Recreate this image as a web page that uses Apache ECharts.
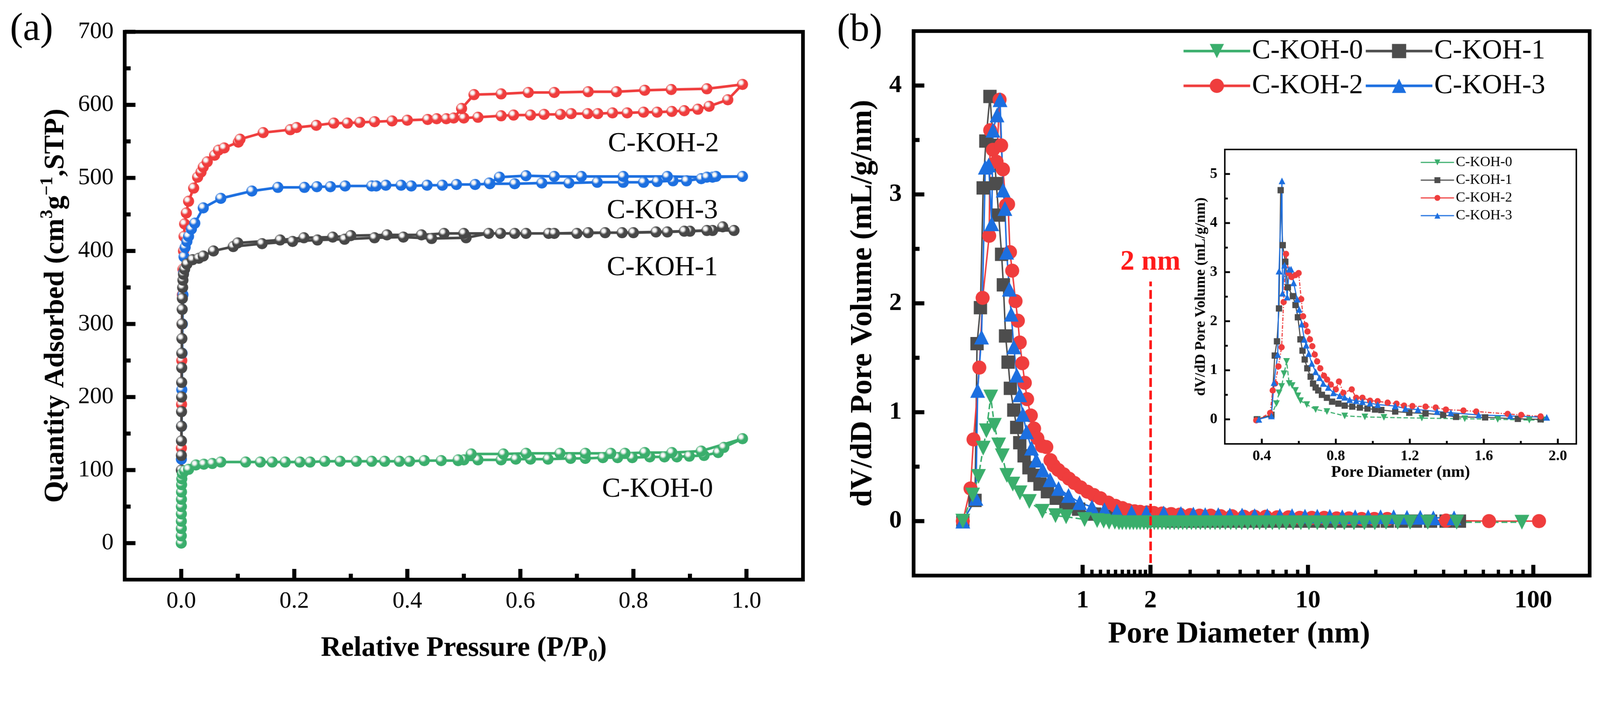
<!DOCTYPE html>
<html>
<head>
<meta charset="utf-8">
<title>C-KOH isotherms and pore size distribution</title>
<script src="https://cdn.jsdelivr.net/npm/echarts@6/dist/echarts.min.js"></script>
<style>
  html, body { margin: 0; padding: 0; background: #fff; overflow: hidden; }
  #chart { width: 4324px; height: 1808px; transform-origin: 0 0; }
</style>
</head>
<body>
<div id="chart"></div>
<script>
// ---------- (a) N2 isotherms: adsorption then desorption branch ----------
const koh2IsoX = [0.0003, 0.0006, 0.001, 0.0015, 0.002, 0.003, 0.004, 0.005, 0.006, 0.009, 0.013, 0.022, 0.029, 0.035, 0.039, 0.046, 0.059, 0.066, 0.076, 0.101, 0.104, 0.145, 0.193, 0.204, 0.239, 0.27, 0.294, 0.316, 0.342, 0.373, 0.4, 0.436, 0.452, 0.469, 0.5, 0.525, 0.566, 0.588, 0.618, 0.642, 0.671, 0.69, 0.719, 0.737, 0.763, 0.789, 0.818, 0.842, 0.868, 0.89, 0.914, 0.934, 0.967, 0.993,
  0.93, 0.867, 0.82, 0.77, 0.72, 0.66, 0.614, 0.566, 0.518, 0.496, 0.482];
const koh2IsoY = [130, 190, 250, 300, 340, 375, 400, 420, 437, 452, 468, 486, 501, 508, 515, 522, 531, 538, 541, 549, 553, 562, 566, 569, 572, 575, 575, 576, 577, 578, 579, 580, 581, 581, 582, 583, 585, 586, 586, 587, 587, 588, 588, 588, 589, 589, 590, 590, 591, 592, 594, 598, 607, 628,
  622, 621, 620, 618, 618, 617, 617, 615, 614, 595, 582];

const koh3IsoX = [0.0003, 0.0006, 0.001, 0.0015, 0.002, 0.003, 0.004, 0.005, 0.007, 0.01, 0.013, 0.018, 0.024, 0.039, 0.07, 0.125, 0.171, 0.218, 0.24, 0.264, 0.29, 0.337, 0.345, 0.362, 0.389, 0.407, 0.435, 0.462, 0.487, 0.52, 0.546, 0.59, 0.638, 0.686, 0.736, 0.782, 0.818, 0.842, 0.87, 0.894, 0.92, 0.94, 0.993,
  0.946, 0.93, 0.86, 0.782, 0.708, 0.66, 0.61, 0.563, 0.545];
const koh3IsoY = [115, 160, 210, 260, 300, 340, 370, 392, 405, 413, 420, 430, 438, 459, 472, 482, 487, 487, 488, 488, 489, 489, 489, 490, 490, 489, 490, 490, 491, 491, 492, 492, 493, 493, 494, 494, 494, 495, 496, 496, 499, 501, 502,
  502, 501, 502, 502, 502, 502, 503, 501, 493];

const koh1IsoX = [0.0002, 0.0003, 0.0004, 0.0005, 0.0006, 0.0007, 0.0008, 0.0009, 0.001, 0.0012, 0.0014, 0.0017, 0.002, 0.0025, 0.003, 0.004, 0.006, 0.01, 0.02, 0.031, 0.039, 0.057, 0.092, 0.143, 0.197, 0.241, 0.289, 0.342, 0.393, 0.443, 0.504, 0.544, 0.59, 0.65, 0.7, 0.75, 0.8, 0.86, 0.9, 0.94, 0.958, 0.978,
  0.93, 0.89, 0.84, 0.78, 0.72, 0.66, 0.61, 0.565, 0.5, 0.465, 0.425, 0.364, 0.3, 0.268, 0.217, 0.175, 0.1];
const koh1IsoY = [100, 120, 140, 160, 180, 200, 220, 240, 260, 280, 300, 320, 335, 350, 360, 368, 375, 382, 388, 390, 393, 400, 406, 410, 413, 415, 416, 418, 419, 417, 418, 424, 424, 424, 424, 425, 425, 426, 427, 428, 433, 428,
  428, 427, 426, 425, 425, 424, 424, 424, 424, 424, 422, 422, 421, 419, 418, 415, 411];

const koh0IsoX = [0.00005, 0.0001, 0.00015, 0.0002, 0.00025, 0.0003, 0.0004, 0.0005, 0.0007, 0.001, 0.002, 0.006, 0.013, 0.026, 0.04, 0.055, 0.07, 0.114, 0.14, 0.161, 0.184, 0.21, 0.228, 0.254, 0.281, 0.31, 0.337, 0.36, 0.386, 0.404, 0.43, 0.46, 0.49, 0.5, 0.525, 0.566, 0.592, 0.618, 0.649, 0.689, 0.715, 0.746, 0.772, 0.798, 0.829, 0.855, 0.877, 0.899, 0.925, 0.95, 0.96, 0.993,
  0.92, 0.868, 0.82, 0.785, 0.76, 0.715, 0.67, 0.61, 0.57, 0.513, 0.49];
const koh0IsoY = [0, 10, 20, 30, 40, 50, 60, 70, 80, 88, 95, 99, 101, 107, 108, 109, 111, 111, 111, 111, 111, 111, 111, 112, 112, 112, 112, 112, 112, 112, 113, 113, 113, 114, 114, 114, 115, 115, 115, 116, 116, 117, 117, 117, 118, 118, 118, 119, 120, 124, 131, 143,
  126, 124, 124, 123, 123, 123, 123, 123, 122, 122, 114];

// ---------- (b) pore size distribution (log axis) ----------
const koh0PsdX = [0.294, 0.325, 0.345, 0.362, 0.374, 0.391, 0.406, 0.424, 0.44, 0.461, 0.49, 0.527, 0.58, 0.663, 0.758, 0.845, 1.02, 1.16, 1.24, 1.31, 1.39, 1.45, 1.5, 1.56, 1.62, 1.68, 1.74, 1.8, 1.87, 1.94, 2.0, 2.08, 2.16, 2.25, 2.34, 2.44, 2.55, 2.66, 2.78, 2.9, 3.04, 3.18, 3.33, 3.5, 3.68, 3.87, 4.07, 4.3, 4.54, 4.8, 5.08, 5.4, 5.74, 6.1, 6.5, 6.95, 7.45, 8.0, 8.6, 9.3, 10.1, 11.0, 12.0, 13.2, 14.5, 16.0, 17.8, 19.8, 22.2, 25.0, 28.4, 34.0, 45.7, 89.0];
const koh0PsdY = [0, 0.24, 0.41, 0.67, 0.83, 1.14, 0.88, 0.70, 0.60, 0.42, 0.34, 0.26, 0.18, 0.09, 0.05, 0.04, 0.015, 0.005, 0, -0.01, -0.01, -0.015, -0.015, -0.015, -0.015, -0.015, -0.015, -0.015, -0.015, -0.015, -0.015, -0.015, -0.015, -0.015, -0.015, -0.015, -0.015, -0.015, -0.015, -0.015, -0.015, -0.015, -0.015, -0.015, -0.015, -0.015, -0.015, -0.015, -0.015, -0.015, -0.015, -0.015, -0.015, -0.015, -0.015, -0.015, -0.015, -0.015, -0.015, -0.015, -0.015, -0.015, -0.015, -0.015, -0.015, -0.015, -0.015, -0.015, -0.01, -0.01, -0.01, -0.01, -0.01, -0.01];

const koh1PsdX = [0.294, 0.333, 0.34, 0.352, 0.362, 0.372, 0.388, 0.402, 0.414, 0.424, 0.437, 0.445, 0.455, 0.467, 0.478, 0.495, 0.51, 0.526, 0.55, 0.578, 0.609, 0.647, 0.698, 0.764, 0.843, 0.96, 1.13, 1.31, 1.59, 1.8, 2.0, 2.25, 2.5, 2.8, 3.1, 3.5, 3.9, 4.4, 5.0, 5.6, 6.3, 7.1, 8.0, 9.0, 10.2, 11.6, 13.2, 15.0, 17.0, 19.5, 22.5, 26, 30, 35, 41, 47];
const koh1PsdY = [0, 0.19, 1.63, 1.96, 3.06, 3.49, 3.90, 3.45, 3.10, 2.81, 2.45, 2.17, 1.70, 1.46, 1.22, 1.02, 0.86, 0.72, 0.60, 0.49, 0.42, 0.34, 0.27, 0.21, 0.16, 0.11, 0.065, 0.04, 0.015, 0.01, 0.005, 0.005, 0, 0, 0, 0, 0, 0, 0, 0, 0, 0, 0, 0, 0, 0, 0, 0, 0, 0, 0, 0, 0, 0, 0, 0];

const koh2PsdX = [0.294, 0.318, 0.328, 0.348, 0.36, 0.385, 0.389, 0.40, 0.415, 0.428, 0.435, 0.443, 0.457, 0.467, 0.476, 0.487, 0.504, 0.516, 0.526, 0.54, 0.554, 0.567, 0.589, 0.609, 0.63, 0.66, 0.69, 0.72, 0.744, 0.78, 0.824, 0.87, 0.92, 0.98, 1.05, 1.12, 1.2, 1.3, 1.4, 1.5, 1.59, 1.7, 1.8, 1.93, 2.07, 2.25, 2.47, 2.7, 3.0, 3.3, 3.7, 4.1, 4.6, 5.2, 5.8, 6.5, 7.3, 8.2, 9.2, 10.4, 11.8, 13.4, 15.2, 17.3, 19.7, 22.5, 41, 63.6, 106];
const koh2PsdY = [0, 0.30, 0.75, 1.41, 2.05, 2.62, 3.59, 3.41, 3.30, 3.87, 3.45, 3.23, 2.90, 2.91, 2.47, 2.30, 2.02, 1.84, 1.64, 1.45, 1.27, 1.12, 0.97, 0.85, 0.76, 0.69, 0.68, 0.56, 0.51, 0.47, 0.43, 0.39, 0.35, 0.31, 0.27, 0.24, 0.21, 0.17, 0.14, 0.12, 0.10, 0.09, 0.085, 0.08, 0.075, 0.07, 0.065, 0.06, 0.055, 0.05, 0.05, 0.045, 0.045, 0.04, 0.04, 0.04, 0.035, 0.035, 0.03, 0.03, 0.03, 0.025, 0.025, 0.02, 0.02, 0.02, 0.005, 0, 0];

const koh3PsdX = [0.294, 0.336, 0.342, 0.356, 0.37, 0.383, 0.395, 0.40, 0.417, 0.43, 0.444, 0.452, 0.46, 0.473, 0.482, 0.495, 0.51, 0.526, 0.543, 0.564, 0.593, 0.623, 0.665, 0.717, 0.782, 0.866, 0.97, 1.1, 1.25, 1.42, 1.65, 1.92, 2.29, 2.73, 3.1, 3.5, 4.0, 4.5, 5.1, 5.8, 6.6, 7.5, 8.5, 9.7, 11, 12.5, 14.2, 16.2, 18.5, 21, 24, 27.5, 31.5, 36, 44.5];
const koh3PsdY = [0, 0.21, 1.20, 1.69, 3.25, 3.27, 2.73, 3.59, 3.73, 3.87, 3.04, 2.87, 2.47, 2.13, 1.90, 1.60, 1.34, 1.16, 0.98, 0.82, 0.67, 0.56, 0.47, 0.38, 0.30, 0.235, 0.17, 0.13, 0.105, 0.09, 0.08, 0.08, 0.075, 0.07, 0.065, 0.06, 0.06, 0.055, 0.055, 0.05, 0.05, 0.05, 0.05, 0.045, 0.045, 0.045, 0.04, 0.04, 0.04, 0.04, 0.04, 0.035, 0.035, 0.03, 0.03];

// ---------- inset: 0.2 - 2.1 nm, linear ----------
const koh0InsX = [0.377, 0.452, 0.479, 0.493, 0.507, 0.52, 0.534, 0.548, 0.564, 0.582, 0.595, 0.609, 0.643, 0.691, 0.752, 0.848, 0.957, 1.06, 1.265, 1.497, 1.675, 1.846, 1.92];
const koh0InsY = [0, 0.09, 0.32, 0.54, 0.67, 0.93, 1.18, 0.73, 0.69, 0.59, 0.48, 0.38, 0.30, 0.20, 0.16, 0.07, 0.05, 0.04, 0.025, 0.012, 0, -0.015, -0.01];

const koh1InsX = [0.373, 0.452, 0.47, 0.482, 0.493, 0.502, 0.513, 0.527, 0.541, 0.568, 0.582, 0.595, 0.609, 0.62, 0.632, 0.646, 0.664, 0.677, 0.691, 0.705, 0.725, 0.752, 0.78, 0.814, 0.848, 0.889, 0.93, 0.971, 1.012, 1.046, 1.121, 1.197, 1.285, 1.38, 1.45, 1.607, 1.784, 1.907];
const koh1InsY = [0, 0.09, 1.30, 1.59, 2.26, 4.67, 3.55, 3.21, 2.69, 2.51, 2.33, 2.08, 1.63, 1.40, 1.22, 1.04, 0.87, 0.73, 0.65, 0.59, 0.50, 0.44, 0.36, 0.32, 0.28, 0.26, 0.24, 0.22, 0.20, 0.19, 0.16, 0.135, 0.12, 0.09, 0.05, 0.04, 0.01, 0];

const koh2InsX = [0.37, 0.445, 0.459, 0.472, 0.49, 0.507, 0.518, 0.531, 0.545, 0.561, 0.582, 0.599, 0.613, 0.623, 0.636, 0.647, 0.66, 0.673, 0.686, 0.699, 0.716, 0.736, 0.753, 0.773, 0.8, 0.817, 0.841, 0.886, 0.91, 0.944, 0.985, 1.026, 1.08, 1.128, 1.169, 1.214, 1.285, 1.34, 1.395, 1.49, 1.559, 1.729, 1.802, 1.907];
const koh2InsY = [-0.02, 0.13, 0.59, 0.73, 1.08, 1.47, 2.39, 3.37, 2.98, 2.90, 2.94, 2.98, 2.45, 2.10, 1.92, 1.79, 1.63, 1.49, 1.32, 1.18, 1.04, 0.89, 0.81, 0.71, 0.61, 0.77, 0.54, 0.61, 0.44, 0.44, 0.38, 0.37, 0.34, 0.32, 0.28, 0.27, 0.26, 0.24, 0.20, 0.18, 0.16, 0.11, 0.09, 0.06];

const koh3InsX = [0.384, 0.452, 0.466, 0.486, 0.493, 0.509, 0.512, 0.523, 0.537, 0.548, 0.558, 0.572, 0.591, 0.602, 0.616, 0.63, 0.64, 0.654, 0.67, 0.691, 0.712, 0.732, 0.759, 0.787, 0.821, 0.848, 0.875, 0.91, 0.944, 0.985, 1.026, 1.121, 1.176, 1.244, 1.347, 1.422, 1.572, 1.743, 1.94];
const koh3InsY = [0, 0.07, 0.75, 1.32, 3.02, 4.86, 2.57, 3.14, 2.49, 3.06, 3.06, 2.78, 2.45, 2.24, 1.94, 1.63, 1.51, 1.34, 1.14, 0.97, 0.85, 0.73, 0.65, 0.54, 0.48, 0.45, 0.40, 0.38, 0.36, 0.33, 0.30, 0.27, 0.22, 0.20, 0.16, 0.135, 0.09, 0.07, 0.04];

// ---------- axis ticks ----------
const isoXTicks = [0, 0.2, 0.4, 0.6, 0.8, 1.0];
const isoXMinorTicks = [0.1, 0.3, 0.5, 0.7, 0.9];
const isoYTicks = [0, 100, 200, 300, 400, 500, 600, 700];
const isoYMinorTicks = [50, 150, 250, 350, 450, 550, 650];
const psdXTicks = [1, 2, 10, 100];
const psdXMinorTicks = [1.1, 1.2, 1.3, 1.4, 1.5, 1.6, 1.7, 1.8, 1.9, 3, 4, 5, 6, 7, 8, 9, 20, 30, 40, 50, 60, 70, 80, 90];
const psdYTicks = [0, 1, 2, 3, 4];
const psdYMinorTicks = [0.5, 1.5, 2.5, 3.5];
const insetXTicks = [0.4, 0.8, 1.2, 1.6, 2.0];
const insetXMinorTicks = [0.6, 1.0, 1.4, 1.8];
const insetYTicks = [0, 1, 2, 3, 4, 5];
const insetYMinorTicks = [0.5, 1.5, 2.5, 3.5, 4.5];

const sampleNames = ['C-KOH-0', 'C-KOH-1', 'C-KOH-2', 'C-KOH-3'];

const FONT = '"Liberation Serif", "Times New Roman", serif';
const GREEN = '#3aae6c';
const BLACK = '#4d4d4d';
const RED = '#ef3d3d';
const BLUE = '#1c6fe0';
const DOWN_TRIANGLE = 'path://M0,0L20,0L10,17Z';

// 页面按窗口宽度等比缩放，画布保持 4324x1808 的设计尺寸
const container = document.getElementById('chart');
const scale = window.innerWidth / 4324;
container.style.transform = 'scale(' + scale + ')';

const chart = echarts.init(container);

function zip(xs, ys) {
  return xs.map((x, i) => [x, ys[i]]);
}

// 小球效果：白色高光的径向渐变
function sphere(color) {
  return new echarts.graphic.RadialGradient(0.36, 0.34, 0.66, [
    { offset: 0, color: '#ffffff' },
    { offset: 0.22, color: '#f4f4f4' },
    { offset: 0.5, color: color },
    { offset: 1, color: color }
  ]);
}

// 标签轴（刻度线由下方的 custom 系列绘制）
function labelAxis(gridIndex, type, min, max, major, label, nameOpt, position) {
  const axis = Object.assign({
    gridIndex, type, min, max, position,
    axisLine: { show: false, onZero: false },
    axisTick: { show: false },
    splitLine: { show: false },
    minorTick: { show: false },
    axisLabel: Object.assign({ show: true, customValues: major, color: '#000', fontFamily: FONT }, label)
  }, nameOpt);
  if (type === 'log') axis.logBase = 10;
  return axis;
}

// 朝内的刻度线：x 方向从底边向上，y 方向从左边向右
function tickSeries(dim, axisIndex, values, edge, len, width) {
  return {
    type: 'custom', name: 'ticks', silent: true, z: 6, animation: false,
    xAxisIndex: axisIndex, yAxisIndex: axisIndex,
    clip: false,
    data: values.map(v => (dim === 'x' ? [v, edge] : [edge, v])),
    renderItem: (params, api) => {
      const p = api.coord([api.value(0), api.value(1)]);
      const shape = dim === 'x'
        ? { x1: p[0], y1: p[1], x2: p[0], y2: p[1] - len }
        : { x1: p[0], y1: p[1], x2: p[0] + len, y2: p[1] };
      return { type: 'line', shape, style: { stroke: '#000', lineWidth: width } };
    }
  };
}

const isoXAxis = labelAxis(0, 'value', -0.1, 1.1, isoXTicks,
  { fontSize: 64, margin: 27, formatter: v => v.toFixed(1) }, {
    name: 'Relative Pressure (P/P{sub|0})', nameLocation: 'middle', nameGap: 140,
    nameTextStyle: {
      fontFamily: FONT, fontSize: 76, fontWeight: 'bold', color: '#000', lineHeight: 92,
      rich: { sub: { fontFamily: FONT, fontSize: 48, fontWeight: 'bold', color: '#000', lineHeight: 48, verticalAlign: 'bottom' } }
    }
  }, 'bottom');
const isoYAxis = labelAxis(0, 'value', -50, 700, isoYTicks,
  { fontSize: 64, margin: 30 }, {
    name: 'Quantity Adsorbed (cm{sup|3}g{sup|\u22121},STP)', nameLocation: 'middle', nameGap: 140,
    nameTextStyle: {
      fontFamily: FONT, fontSize: 76, fontWeight: 'bold', color: '#000', lineHeight: 92,
      rich: { sup: { fontFamily: FONT, fontSize: 48, fontWeight: 'bold', color: '#000', lineHeight: 48, verticalAlign: 'top' } }
    }
  }, 'left');
const psdXMin = Math.pow(10, -0.75);
const psdXAxis = labelAxis(1, 'log', psdXMin, Math.pow(10, 2.25), psdXTicks,
  { fontSize: 68, fontWeight: 'bold', margin: 34, formatter: v => String(Math.round(v)) }, {
    name: 'Pore Diameter (nm)', nameLocation: 'middle', nameGap: 118,
    nameTextStyle: { fontFamily: FONT, fontSize: 83, fontWeight: 'bold', color: '#000', padding: [0, 68, 0, 0] }
  }, 'bottom');
const psdYAxis = labelAxis(1, 'value', -0.5, 4.5, psdYTicks,
  { fontSize: 68, fontWeight: 'bold', margin: 32 }, {
    name: 'dV/dD Pore Volume (mL/g/nm)', nameLocation: 'middle', nameGap: 95,
    nameTextStyle: { fontFamily: FONT, fontSize: 82, fontWeight: 'bold', color: '#000' }
  }, 'left');
const insXAxis = labelAxis(2, 'value', 0.2, 2.1, insetXTicks,
  { fontSize: 40, fontWeight: 'bold', margin: 14, formatter: v => v.toFixed(1) }, {
    name: 'Pore Diameter (nm)', nameLocation: 'middle', nameGap: 56,
    nameTextStyle: { fontFamily: FONT, fontSize: 44, fontWeight: 'bold', color: '#000' }
  }, 'bottom');
const insYAxis = labelAxis(2, 'value', -0.5, 5.5, insetYTicks,
  { fontSize: 40, fontWeight: 'bold', margin: 20 }, {
    name: 'dV/dD Pore Volume (mL/g/nm)', nameLocation: 'middle', nameGap: 44,
    nameTextStyle: { fontFamily: FONT, fontSize: 40, fontWeight: 'bold', color: '#000' }
  }, 'left');

function isoSeries(name, xs, ys, color) {
  return {
    name, type: 'line', xAxisIndex: 0, yAxisIndex: 0,
    data: zip(xs, ys),
    symbol: 'circle', symbolSize: 30,
    lineStyle: { color, width: 7 },
    itemStyle: { color: sphere(color) },
    emphasis: { disabled: true },
    animation: false
  };
}

function psdSeries(name, xs, ys, color, symbol, size, ai, width, dash) {
  return {
    name, type: 'line', xAxisIndex: ai, yAxisIndex: ai,
    data: zip(xs, ys),
    symbol, symbolSize: size,
    lineStyle: { color, width, type: dash || 'solid' },
    itemStyle: { color },
    emphasis: { disabled: true },
    animation: false
  };
}

const mainGreen = psdSeries('C-KOH-0', koh0PsdX, koh0PsdY, GREEN, DOWN_TRIANGLE, 40, 1, 4, 'dashed');
// 2 nm 分界线
mainGreen.markLine = {
  silent: true, symbol: 'none', animation: false,
  lineStyle: { color: '#ff1a1a', width: 7, type: [24, 10] },
  label: { show: true, position: 'end', formatter: '2 nm', color: '#ff1a1a', fontFamily: FONT, fontSize: 76, fontWeight: 'bold', distance: 14 },
  data: [[{ coord: [2, -0.5] }, { coord: [2, 2.2] }]]
};

const option = {
  backgroundColor: '#ffffff',
  animation: false,
  grid: [
    { left: 337, top: 86, width: 1833, height: 1481, show: true, borderColor: '#000', borderWidth: 10, backgroundColor: 'transparent', containLabel: false },
    { left: 2469, top: 84, width: 1827, height: 1472, show: true, borderColor: '#000', borderWidth: 10, backgroundColor: 'transparent', containLabel: false },
    { left: 3310, top: 404, width: 950, height: 796, show: true, borderColor: '#000', borderWidth: 4, backgroundColor: '#ffffff', containLabel: false, z: 3 }
  ],
  xAxis: [isoXAxis, psdXAxis, insXAxis],
  yAxis: [isoYAxis, psdYAxis, insYAxis],
  legend: [
    {
      data: sampleNames, left: 3195, top: 93, width: 1010, padding: 0,
      itemWidth: 180, itemHeight: 48, itemGap: 4,
      selectedMode: false,
      lineStyle: { width: 7, type: 'solid' },
      textStyle: { fontFamily: FONT, fontSize: 75, color: '#000', lineHeight: 90 }
    },
    {
      data: sampleNames, left: 3838, top: 420, orient: 'vertical', padding: 0,
      itemWidth: 90, itemHeight: 20, itemGap: 10,
      selectedMode: false,
      lineStyle: { width: 3, type: 'solid' },
      textStyle: { fontFamily: FONT, fontSize: 38, color: '#000', lineHeight: 38 }
    }
  ],
  series: [
    // (b) main — drawn first so legends pick these styles
    psdSeries('C-KOH-1', koh1PsdX, koh1PsdY, BLACK, 'rect', 36, 1, 4),
    psdSeries('C-KOH-2', koh2PsdX, koh2PsdY, RED, 'circle', 38, 1, 4),
    psdSeries('C-KOH-3', koh3PsdX, koh3PsdY, BLUE, 'triangle', 40, 1, 4),
    mainGreen,
    // inset
    Object.assign(psdSeries('C-KOH-0', koh0InsX, koh0InsY, GREEN, DOWN_TRIANGLE, 18, 2, 3, 'dashed'), { z: 4 }),
    Object.assign(psdSeries('C-KOH-1', koh1InsX, koh1InsY, BLACK, 'rect', 17, 2, 3), { z: 4 }),
    Object.assign(psdSeries('C-KOH-2', koh2InsX, koh2InsY, RED, 'circle', 17, 2, 3, [10, 4, 3, 4]), { z: 4 }),
    Object.assign(psdSeries('C-KOH-3', koh3InsX, koh3InsY, BLUE, 'triangle', 18, 2, 3), { z: 4 }),
    // (a) isotherms
    isoSeries('iso C-KOH-2', koh2IsoX, koh2IsoY, RED),
    isoSeries('iso C-KOH-3', koh3IsoX, koh3IsoY, BLUE),
    isoSeries('iso C-KOH-1', koh1IsoX, koh1IsoY, '#474747'),
    isoSeries('iso C-KOH-0', koh0IsoX, koh0IsoY, GREEN),
    // inward ticks
    tickSeries('x', 0, isoXTicks, -50, 29, 11),
    tickSeries('x', 0, isoXMinorTicks, -50, 16, 11),
    tickSeries('y', 0, isoYTicks, -0.1, 29, 11),
    tickSeries('y', 0, isoYMinorTicks, -0.1, 16, 11),
    tickSeries('x', 1, psdXTicks, -0.5, 29, 11),
    tickSeries('x', 1, psdXMinorTicks, -0.5, 16, 9),
    tickSeries('y', 1, psdYTicks, psdXMin, 29, 11),
    tickSeries('y', 1, psdYMinorTicks, psdXMin, 16, 11),
    tickSeries('x', 2, insetXTicks, -0.5, 14, 5),
    tickSeries('x', 2, insetXMinorTicks, -0.5, 8, 5),
    tickSeries('y', 2, insetYTicks, 0.2, 14, 5),
    tickSeries('y', 2, insetYMinorTicks, 0.2, 8, 5)
  ],
  graphic: [
    { type: 'text', left: 27, top: 28, style: { text: '(a)', font: '105px ' + FONT, fill: '#000' } },
    { type: 'text', left: 2262, top: 30, style: { text: '(b)', font: '105px ' + FONT, fill: '#000' } },
    { type: 'text', left: 1643, top: 352, style: { text: 'C-KOH-2', font: '75px ' + FONT, fill: '#000' } },
    { type: 'text', left: 1640, top: 533, style: { text: 'C-KOH-3', font: '75px ' + FONT, fill: '#000' } },
    { type: 'text', left: 1640, top: 687, style: { text: 'C-KOH-1', font: '75px ' + FONT, fill: '#000' } },
    { type: 'text', left: 1627, top: 1286, style: { text: 'C-KOH-0', font: '75px ' + FONT, fill: '#000' } }
  ]
};

chart.setOption(option);
</script>
</body>
</html>
